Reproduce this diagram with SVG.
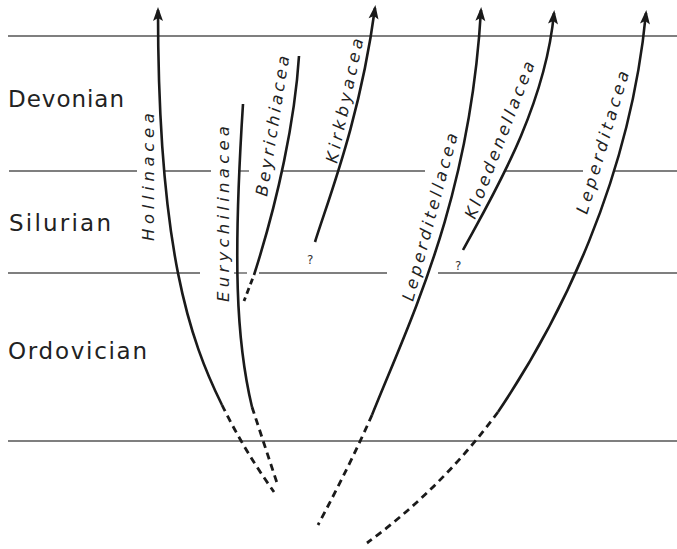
<svg xmlns="http://www.w3.org/2000/svg" width="677" height="549" viewBox="0 0 677 549">
  <style>
    .hline { stroke: #555; stroke-width: 1.3; fill: none; }
    .solid { stroke: #1a1a1a; stroke-width: 2.6; fill: none; }
    .dash { stroke: #1a1a1a; stroke-width: 2.8; fill: none; stroke-dasharray: 7 5; }
    .period { font-family: "DejaVu Sans", sans-serif; font-size: 23px; fill: #222; }
    .taxon { font-family: "DejaVu Sans", sans-serif; font-size: 16.5px; font-style: oblique; fill: #222; }
    .q { font-family: "DejaVu Sans", sans-serif; font-size: 12px; fill: #333; }
  </style>
  <defs>
    <marker id="arrow" markerUnits="userSpaceOnUse" viewBox="-14 -7 20 14" refX="0" refY="0" markerWidth="20" markerHeight="14" orient="auto" overflow="visible">
      <path d="M3,0 L-11,-5 L-8,0 L-11,5 Z" fill="#1a1a1a"/>
    </marker>
  </defs>
  <rect width="677" height="549" fill="#fff"/>

  <g id="time-lines">
    <line class="hline" x1="8" y1="36" x2="677" y2="36"/>
    <line class="hline" x1="9" y1="171" x2="137" y2="171"/>
    <line class="hline" x1="163" y1="171" x2="211" y2="171"/>
    <line class="hline" x1="238" y1="171" x2="249" y2="171"/>
    <line class="hline" x1="282" y1="171" x2="425" y2="171"/>
    <line class="hline" x1="505" y1="171" x2="583" y2="171"/>
    <line class="hline" x1="615" y1="171" x2="677" y2="171"/>
    <line class="hline" x1="8" y1="273" x2="200" y2="273"/>
    <line class="hline" x1="234" y1="273" x2="247" y2="273"/>
    <line class="hline" x1="259" y1="273" x2="387" y2="273"/>
    <line class="hline" x1="438" y1="273" x2="677" y2="273"/>
    <line class="hline" x1="8" y1="441" x2="677" y2="441"/>
  </g>

  <g id="periods">
    <text class="period" x="8" y="107" textLength="116" lengthAdjust="spacing">Devonian</text>
    <text class="period" x="9" y="231" textLength="102" lengthAdjust="spacing">Silurian</text>
    <text class="period" x="8" y="359" textLength="139" lengthAdjust="spacing">Ordovician</text>
  </g>

  <g id="connectors">
    <path class="solid" d="M222,405 C190,340 158,250 158,10" marker-end="url(#arrow)"/>
    <path class="dash" d="M222,405 Q244,450 274,492"/>
    <path class="solid" d="M252,407 C236,340 233,260 243,104"/>
    <path class="dash" d="M252,407 L277,483"/>
    <path class="solid" d="M299,56 C295,120 278,200 254,275"/>
    <path class="dash" d="M254,275 L244,301" style="stroke-dasharray:6 4;stroke-dashoffset:6"/>
    <path class="solid" d="M315,242 C328,200 360,120 375,8" marker-end="url(#arrow)"/>
    <path class="solid" d="M372,415 C410,320 470,200 481,10" marker-end="url(#arrow)"/>
    <path class="dash" d="M372,415 Q350,465 318,525"/>
    <path class="solid" d="M463,250 C490,200 545,110 554,13" marker-end="url(#arrow)"/>
    <path class="solid" d="M498,412 C560,320 630,180 646,13" marker-end="url(#arrow)"/>
    <path class="dash" d="M498,412 Q442,488 367,543"/>
  </g>

  <g id="hollinacea">
    <text class="taxon" transform="translate(154,241) rotate(-90)" textLength="128" lengthAdjust="spacing">Hollinacea</text>
  </g>
  <g id="eurychilinacea">
    <text class="taxon" transform="translate(229,302) rotate(-90)" textLength="176" lengthAdjust="spacing">Eurychilinacea</text>
  </g>
  <g id="beyrichiacea">
    <text class="taxon" transform="translate(267,197) rotate(-81)" textLength="142" lengthAdjust="spacing">Beyrichiacea</text>
  </g>
  <g id="kirkbyacea">
    <text class="taxon" transform="translate(337,164) rotate(-78)" textLength="127" lengthAdjust="spacing">Kirkbyacea</text>
    <text class="q" x="307" y="264">?</text>
  </g>
  <g id="leperditellacea">
    <text class="taxon" transform="translate(413,302) rotate(-75)" textLength="173" lengthAdjust="spacing">Leperditellacea</text>
  </g>
  <g id="kloedenellacea">
    <text class="taxon" transform="translate(475,220) rotate(-69)" textLength="167" lengthAdjust="spacing">Kloedenellacea</text>
    <text class="q" x="455" y="270">?</text>
  </g>
  <g id="leperditacea">
    <text class="taxon" transform="translate(587,215) rotate(-73.5)" textLength="148" lengthAdjust="spacing">Leperditacea</text>
  </g>
</svg>
